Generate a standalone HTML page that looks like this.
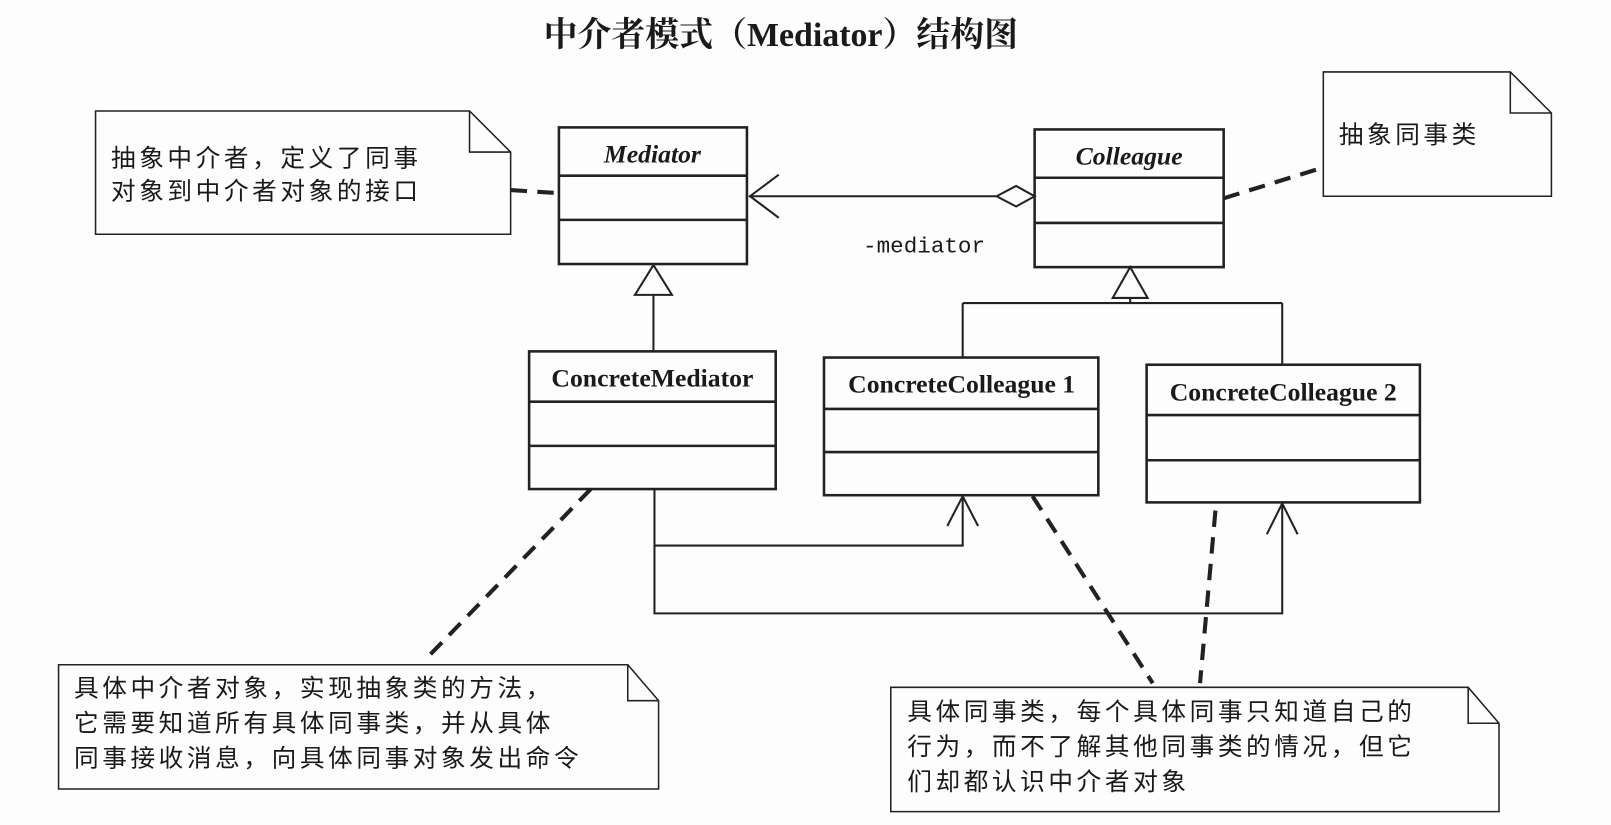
<!DOCTYPE html>
<html><head><meta charset="utf-8"><style>
html,body{margin:0;padding:0;background:#fff;}
svg{display:block;}
text{font-family:"Liberation Serif","Noto Sans CJK SC",serif;fill:#1a1a1a;}
.cjk{font-family:"Liberation Sans","Noto Sans CJK SC",sans-serif;font-size:24px;letter-spacing:3.5px;}
.cls{font-weight:bold;font-size:25px;}
</style></head><body>
<svg width="1611" height="825" viewBox="0 0 1568 803" preserveAspectRatio="none" xmlns="http://www.w3.org/2000/svg">
<rect width="1568" height="803" fill="#fdfdfd"/>
<text x="760" y="45" text-anchor="middle" font-weight="bold" font-size="33" style="font-family:'Liberation Serif','Noto Serif CJK SC',serif">中介者模式（Mediator）结构图</text>
<g fill="none" stroke="#222" stroke-width="2">
<path d="M93,108 H457 L497,148 V228 H93 Z M457,108 V148 H497" stroke-width="1.5"/>
<path d="M1288,70 H1470 L1510,110 V191 H1288 Z M1470,70 V110 H1510" stroke-width="1.5"/>
<path d="M57,647 H611 L641,682 V768 H57 Z M611,647 V682 H641" stroke-width="1.5"/>
<path d="M867,669 H1429 L1459,704 V790 H867 Z M1429,669 V704 H1459" stroke-width="1.5"/>
<rect x="544" y="124" width="183" height="133" stroke-width="2.5"/>
<path d="M544,171 H727 M544,214 H727" stroke-width="2.5"/>
<rect x="1007" y="126" width="184" height="134" stroke-width="2.5"/>
<path d="M1007,173 H1191 M1007,217 H1191" stroke-width="2.5"/>
<rect x="515" y="342" width="240" height="134" stroke-width="2.5"/>
<path d="M515,391 H755 M515,434 H755" stroke-width="2.5"/>
<rect x="802" y="348" width="267" height="134" stroke-width="2.5"/>
<path d="M802,398 H1069 M802,440 H1069" stroke-width="2.5"/>
<rect x="1116" y="355" width="266" height="134" stroke-width="2.5"/>
<path d="M1116,404 H1382 M1116,448 H1382" stroke-width="2.5"/>
<path d="M729,191 H970"/>
<path d="M758,170 L730,191 L758,212"/>
<path d="M970,191 L989,181 L1007,191 L989,201 Z"/>
<path d="M636,258 L654,287 H618 Z"/>
<path d="M636,287 V342"/>
<path d="M1100,260 L1117,290 H1083 Z"/>
<path d="M1100,290 V295 M937,295 H1248 M937,295 V348 M1248,295 V355"/>
<path d="M637,476 V597 H1248 V490"/>
<path d="M1233,520 L1248,490 L1263,520"/>
<path d="M637,531 H937 V483"/>
<path d="M922,512 L937,483 L952,512"/>
<g stroke-width="4" stroke-dasharray="16,10">
<path d="M497,185 L544,188"/>
<path d="M1191,193 L1288,163"/>
<path d="M575,476 L413,643"/>
<path d="M1005,483 L1122,665"/>
<path d="M1183,497 L1168,665"/>
</g>
</g>
<text x="635" y="158" text-anchor="middle" class="cls" font-style="italic">Mediator</text>
<text x="1099" y="160" text-anchor="middle" class="cls" font-style="italic">Colleague</text>
<text x="635" y="376" text-anchor="middle" class="cls">ConcreteMediator</text>
<text x="936" y="382" text-anchor="middle" class="cls">ConcreteColleague 1</text>
<text x="1249" y="390" text-anchor="middle" class="cls">ConcreteColleague 2</text>
<text x="840" y="246" font-size="22" style="font-family:'Liberation Mono',monospace">-mediator</text>
<text class="cjk" x="108" y="162">抽象中介者，定义了同事</text>
<text class="cjk" x="108" y="194">对象到中介者对象的接口</text>
<text class="cjk" x="1303" y="139">抽象同事类</text>
<text class="cjk" x="72" y="678">具体中介者对象，实现抽象类的方法，</text>
<text class="cjk" x="72" y="712">它需要知道所有具体同事类，并从具体</text>
<text class="cjk" x="72" y="746">同事接收消息，向具体同事对象发出命令</text>
<text class="cjk" x="883" y="701">具体同事类，每个具体同事只知道自己的</text>
<text class="cjk" x="883" y="735">行为，而不了解其他同事类的情况，但它</text>
<text class="cjk" x="883" y="769">们却都认识中介者对象</text>
</svg>
</body></html>
